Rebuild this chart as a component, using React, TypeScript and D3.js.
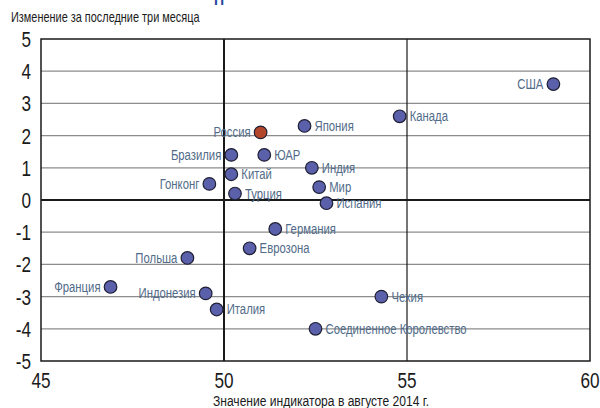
import { useEffect, useRef } from "react";
import * as d3 from "d3";

const countries = [
  "США", "Канада", "Россия", "Япония", "Бразилия", "ЮАР", "Индия", "Китай",
  "Гонконг", "Мир", "Турция", "Испания", "Германия", "Еврозона", "Польша",
  "Франция", "Индонезия", "Италия", "Чехия", "Соединенное Королевство",
];
const indicatorAug2014 = [
  59.0, 54.8, 51.0, 52.2, 50.2, 51.1, 52.4, 50.2, 49.6, 52.6, 50.3, 52.8,
  51.4, 50.7, 49.0, 46.9, 49.5, 49.8, 54.3, 52.5,
];
const change3m = [
  3.6, 2.6, 2.1, 2.3, 1.4, 1.4, 1.0, 0.8, 0.5, 0.4, 0.2, -0.1, -0.9, -1.5,
  -1.8, -2.7, -2.9, -3.4, -3.0, -4.0,
];
const labelledOnLeft = ["США", "Россия", "Бразилия", "Гонконг", "Польша", "Франция", "Индонезия"];
const highlighted = ["Россия"];

const xTicks = [45, 50, 55, 60];
const yTicks = [-5, -4, -3, -2, -1, 0, 1, 2, 3, 4, 5];

const yTitle = "Изменение за последние три месяца";
const xTitle = "Значение индикатора в августе 2014 г.";

const FONT = "'Liberation Sans', Arial, sans-serif";
// the original uses a condensed face; squeeze glyphs horizontally
const SQUEEZE = 0.78;

export default function App() {
  const svgRef = useRef<SVGSVGElement>(null);
  const width = 600;
  const height = 408;

  useEffect(() => {
    if (!svgRef.current) return;
    const svg = d3.select(svgRef.current);
    svg.selectAll("*").remove();

    const x = d3.scaleLinear().domain([45, 60]).range([41, 590]);
    const y = d3.scaleLinear().domain([-5, 5]).range([361, 39]);
    const sx = (v: number) => v / SQUEEZE;

    // cut-off heading above the chart
    svg.append("text")
      .attr("x", sx(214))
      .attr("y", 5)
      .attr("transform", `scale(${SQUEEZE},1)`)
      .attr("font-family", FONT)
      .attr("font-weight", "bold")
      .attr("font-size", "18px")
      .attr("fill", "#2444a0")
      .text("П");

    // horizontal gridlines
    svg.append("g")
      .selectAll("line")
      .data(yTicks.filter((t) => t !== 0 && Math.abs(t) !== 5))
      .join("line")
      .attr("x1", x(45))
      .attr("x2", x(60))
      .attr("y1", (d) => y(d))
      .attr("y2", (d) => y(d))
      .attr("stroke", "#8c8c8c")
      .attr("stroke-width", 1.3);

    // vertical lines at 50 and 55
    svg.append("line")
      .attr("x1", x(55)).attr("x2", x(55))
      .attr("y1", y(5)).attr("y2", y(-5))
      .attr("stroke", "#1a1a1a").attr("stroke-width", 1.2);
    svg.append("line")
      .attr("x1", x(50)).attr("x2", x(50))
      .attr("y1", y(5)).attr("y2", y(-5))
      .attr("stroke", "#1a1a1a").attr("stroke-width", 2);

    // zero line
    svg.append("line")
      .attr("x1", x(45)).attr("x2", x(60))
      .attr("y1", y(0)).attr("y2", y(0))
      .attr("stroke", "#1a1a1a").attr("stroke-width", 2);

    // frame
    svg.append("rect")
      .attr("x", x(45))
      .attr("y", y(5))
      .attr("width", x(60) - x(45))
      .attr("height", y(-5) - y(5))
      .attr("fill", "none")
      .attr("stroke", "#1a1a1a")
      .attr("stroke-width", 1.5);

    // y tick labels
    svg.append("g")
      .attr("transform", `scale(${SQUEEZE},1)`)
      .selectAll("text")
      .data(yTicks)
      .join("text")
      .attr("x", sx(31))
      .attr("y", (d) => y(d) + 8)
      .attr("text-anchor", "end")
      .attr("font-family", FONT)
      .attr("font-size", "22px")
      .attr("fill", "#1a1a1a")
      .text((d) => String(d));

    // x tick labels
    svg.append("g")
      .attr("transform", `scale(${SQUEEZE},1)`)
      .selectAll("text")
      .data(xTicks)
      .join("text")
      .attr("x", (d) => sx(x(d)))
      .attr("y", 388)
      .attr("text-anchor", "middle")
      .attr("font-family", FONT)
      .attr("font-size", "22px")
      .attr("fill", "#1a1a1a")
      .text((d) => String(d));

    // axis titles
    svg.append("text")
      .attr("transform", `scale(${SQUEEZE},1)`)
      .attr("x", sx(11))
      .attr("y", 22)
      .attr("font-family", FONT)
      .attr("font-size", "14px")
      .attr("fill", "#1a1a1a")
      .text(yTitle);

    svg.append("text")
      .attr("transform", `scale(${SQUEEZE},1)`)
      .attr("x", sx(321))
      .attr("y", 406)
      .attr("text-anchor", "middle")
      .attr("font-family", FONT)
      .attr("font-size", "15.5px")
      .attr("fill", "#1a1a1a")
      .text(xTitle);

    const points = countries.map((name, i) => ({
      name,
      px: indicatorAug2014[i],
      py: change3m[i],
    }));

    // labels
    svg.append("g")
      .attr("transform", `scale(${SQUEEZE},1)`)
      .selectAll("text")
      .data(points)
      .join("text")
      .attr("x", (d) => sx(labelledOnLeft.includes(d.name) ? x(d.px) - 10 : x(d.px) + 10))
      .attr("y", (d) => y(d.py) + 5)
      .attr("text-anchor", (d) => (labelledOnLeft.includes(d.name) ? "end" : "start"))
      .attr("font-family", FONT)
      .attr("font-size", "14.5px")
      .attr("fill", "#516b88")
      .text((d) => d.name);

    // dots
    svg.append("g")
      .selectAll("circle")
      .data(points)
      .join("circle")
      .attr("cx", (d) => x(d.px))
      .attr("cy", (d) => y(d.py))
      .attr("r", 6.3)
      .attr("fill", (d) => (highlighted.includes(d.name) ? "#b3472b" : "#5b60ab"))
      .attr("stroke", "#1f1f33")
      .attr("stroke-width", 1.2);
  }, []);

  return (
    <svg
      ref={svgRef}
      width={width}
      height={height}
      style={{ position: "absolute", left: 0, top: 0, background: "#fff" }}
    />
  );
}
